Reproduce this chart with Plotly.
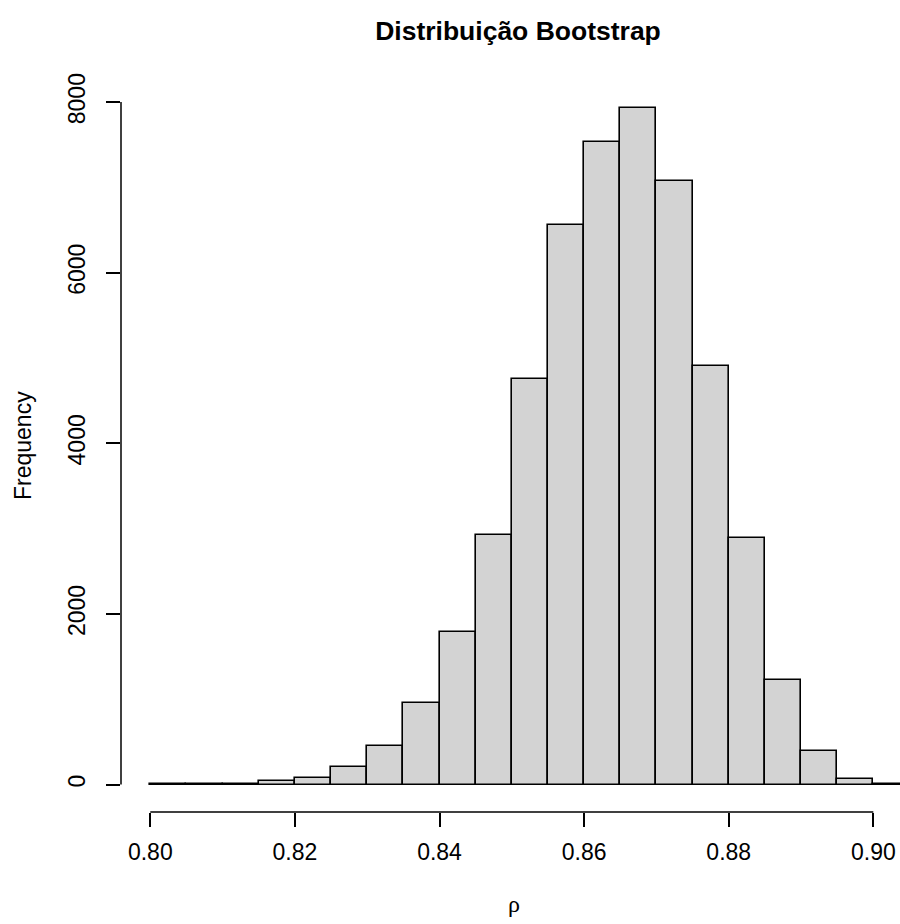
import plotly.graph_objects as go

# Histogram bins (left edges) and counts
bin_left = [0.800, 0.805, 0.810, 0.815, 0.820, 0.825, 0.830, 0.835, 0.840, 0.845,
            0.850, 0.855, 0.860, 0.865, 0.870, 0.875, 0.880, 0.885, 0.890, 0.895, 0.900]
counts = [2, 3, 6, 45, 78, 200, 452, 950, 1785, 2922,
          4751, 6556, 7527, 7930, 7072, 4902, 2886, 1222, 394, 62, 4]
bin_width = 0.005

x_ticks = [0.80, 0.82, 0.84, 0.86, 0.88, 0.90]
x_tick_labels = ["0.80", "0.82", "0.84", "0.86", "0.88", "0.90"]
y_ticks = [0, 2000, 4000, 6000, 8000]
y_tick_labels = ["0", "2000", "4000", "6000", "8000"]

title_text = "Distribuição Bootstrap"
x_title = "ρ"
y_title = "Frequency"

W, H = 900, 924
ML, MR, MT, MB = 121, 0, 81, 112
PW, PH = W - ML - MR, H - MT - MB
FONT = "Liberation Sans, Arial, Helvetica, sans-serif"


def px_to_paper(px, py):
    return (px - ML) / PW, (H - MB - py) / PH


centers = [b + bin_width / 2 for b in bin_left]

fig = go.Figure()
fig.add_trace(go.Bar(
    x=centers, y=counts, width=[bin_width] * len(centers),
    marker=dict(color="#D3D3D3", line=dict(color="black", width=1.6)),
    hoverinfo="x+y", showlegend=False,
))

# axis lines spanning only the tick range (R style)
fig.add_shape(type="line", xref="x", yref="paper",
              x0=x_ticks[0], x1=x_ticks[-1], y0=0, y1=0,
              line=dict(color="black", width=1.5), layer="above")
fig.add_shape(type="line", xref="paper", yref="y",
              x0=0, x1=0, y0=y_ticks[0], y1=y_ticks[-1],
              line=dict(color="black", width=1.5), layer="above")

rx, ry = px_to_paper(514, 904)
fx, fy = px_to_paper(23, 446)

fig.update_layout(
    width=W, height=H,
    paper_bgcolor="white", plot_bgcolor="white",
    margin=dict(l=ML, r=MR, t=MT, b=MB, pad=0),
    font=dict(family=FONT, size=23, color="black"),
    bargap=0,
    title=dict(text="<b>" + title_text + "</b>", xref="container", x=518 / W,
               xanchor="center", yref="container", y=1 - 31 / H, yanchor="middle",
               font=dict(family=FONT, size=26.5, color="black")),
    xaxis=dict(range=[0.79595, 0.90369], showgrid=False, zeroline=False, showline=False,
               tickmode="array", tickvals=x_ticks, ticktext=x_tick_labels,
               ticks="outside", ticklen=14, tickwidth=1.5, tickcolor="black",
               ticklabelstandoff=5, tickfont=dict(size=23)),
    yaxis=dict(range=[-322, 8247], showgrid=False, zeroline=False, showline=False,
               tickmode="array", tickvals=y_ticks, ticktext=y_tick_labels,
               ticks="outside", ticklen=14, tickwidth=1.5, tickcolor="black",
               tickangle=-90, ticklabelstandoff=12, tickfont=dict(size=23)),
    annotations=[
        dict(text=x_title, xref="paper", yref="paper", x=rx, y=ry,
             xanchor="center", yanchor="middle", showarrow=False,
             font=dict(family="Liberation Serif, DejaVu Serif, serif", size=24, color="black")),
        dict(text=y_title, xref="paper", yref="paper", x=fx, y=fy,
             xanchor="center", yanchor="middle", showarrow=False, textangle=-90,
             font=dict(family=FONT, size=23, color="black")),
    ],
)

fig.write_html(
    "out.html",
    config={"displayModeBar": False},
    post_script="document.body.style.margin='0';document.body.style.overflow='hidden';",
)
